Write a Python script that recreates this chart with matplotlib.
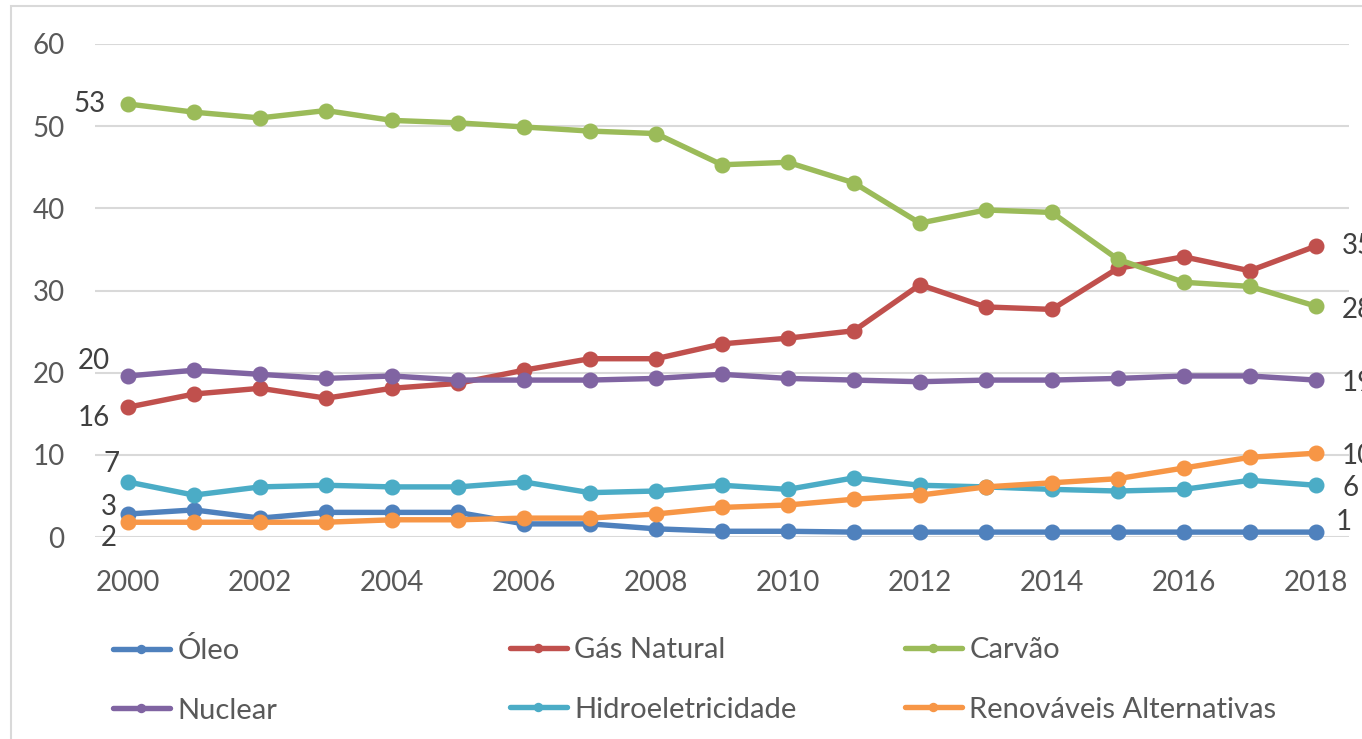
import matplotlib
matplotlib.use("Agg")
import matplotlib.pyplot as plt
from matplotlib.patches import Rectangle

plt.rcParams['font.family'] = ['Lato', 'DejaVu Sans']

years = list(range(2000, 2019))
oleo = [2.8, 3.3, 2.3, 3.0, 3.0, 3.0, 1.6, 1.6, 1.0, 0.7, 0.7, 0.6, 0.6, 0.6, 0.6, 0.6, 0.6, 0.6, 0.6]
gas = [15.8, 17.4, 18.1, 16.9, 18.1, 18.7, 20.3, 21.7, 21.7, 23.5, 24.2, 25.1, 30.7, 28.0, 27.7, 32.7, 34.1, 32.4, 35.4]
carvao = [52.7, 51.7, 51.0, 51.9, 50.7, 50.4, 49.9, 49.4, 49.1, 45.3, 45.6, 43.1, 38.2, 39.8, 39.5, 33.8, 31.0, 30.5, 28.1]
nuclear = [19.6, 20.3, 19.8, 19.3, 19.6, 19.1, 19.1, 19.1, 19.3, 19.8, 19.3, 19.1, 18.9, 19.1, 19.1, 19.3, 19.6, 19.6, 19.1]
hidro = [6.7, 5.1, 6.1, 6.3, 6.1, 6.1, 6.7, 5.4, 5.6, 6.3, 5.8, 7.2, 6.3, 6.1, 5.8, 5.6, 5.8, 6.9, 6.3]
renov = [1.8, 1.8, 1.8, 1.8, 2.1, 2.1, 2.3, 2.3, 2.8, 3.6, 3.9, 4.6, 5.1, 6.1, 6.6, 7.1, 8.4, 9.7, 10.2]

names = ['Óleo', 'Gás Natural', 'Carvão', 'Nuclear', 'Hidroeletricidade', 'Renováveis Alternativas']
series = [oleo, gas, carvao, nuclear, hidro, renov]
colors = ['#4F81BD', '#C0504D', '#9BBB59', '#8064A2', '#4BACC6', '#F79646']

# (x offset, y offset) in points for first / last labels
start_off = [(-8, 5), (-13, -8), (-16, 0), (-13, 11), (-6, 13), (-8, -11)]
end_off = [(14, 7), (19, 0), (19, -3), (19, -2), (19, -2), (19, -2)]

fig = plt.figure(figsize=(13.62, 7.39), dpi=100)
ax = fig.add_axes([0.0698, 0.2733, 0.9205, 0.6672])

fig.patches.append(Rectangle((11 / 1362, -0.1), 1.2, 1.1 - 6 / 739, transform=fig.transFigure,
                             fill=False, edgecolor='#D9D9D9', lw=1.5))

lines = []
for name, ys, c, so, eo in zip(names, series, colors, start_off, end_off):
    ln, = ax.plot(years, ys, color=c, lw=3.9, marker='o', ms=10.5, label=name,
                  solid_capstyle='round', clip_on=False)
    lines.append(ln)
    ax.annotate(f"{ys[0]:.0f}", (years[0], ys[0]), xytext=so, textcoords='offset points',
                ha='right', va='center', fontsize=20, color='#404040')
    ax.annotate(f"{ys[-1]:.0f}", (years[-1], ys[-1]), xytext=eo, textcoords='offset points',
                ha='left', va='center', fontsize=20, color='#404040', annotation_clip=False)

ax.set_xlim(1999.5, 2018.5)
ax.set_ylim(0, 60)
ax.set_xticks(years[::2])
ax.set_yticks(range(0, 61, 10))
ax.tick_params(length=0, labelsize=20, labelcolor='#595959')
ax.tick_params(axis='y', pad=22)
ax.tick_params(axis='x', pad=24)
for s in ax.spines.values():
    s.set_visible(False)
ax.grid(axis='y', color='#D9D9D9', lw=1.5)
ax.set_axisbelow(True)

# legend: three columns, row-wise order as in the original
col_x = [113 / 1362, 510 / 1362, 905 / 1362]
for i, x in enumerate(col_x):
    hs = [lines[i], lines[i + 3]]
    leg = fig.legend(hs, [h.get_label() for h in hs], loc='upper left',
                     bbox_to_anchor=(x, 1 - 637 / 739), bbox_transform=fig.transFigure,
                     frameon=False, fontsize=21, labelcolor='#595959', handlelength=1.95,
                     handletextpad=0.25, labelspacing=1.15, borderpad=0, borderaxespad=0,
                     markerscale=0.55)

fig.savefig('out.png', dpi=100)
